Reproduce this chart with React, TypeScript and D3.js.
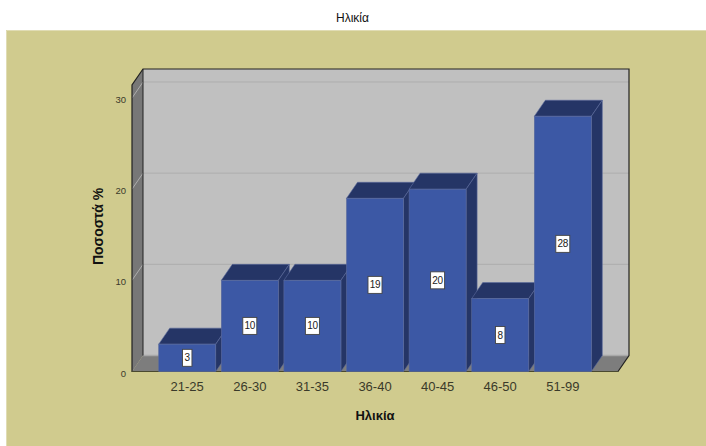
import React from "react";
import * as d3 from "d3";

const categories = ["21-25", "26-30", "31-35", "36-40", "40-45", "46-50", "51-99"];
const percents = [3, 10, 10, 19, 20, 8, 28];
const yTicks = [0, 10, 20, 30];
const chartTitle = "Ηλικία";
const xTitle = "Ηλικία";
const yTitle = "Ποσοστά %";

const W = 706, H = 446;
const DX = 11, DY = -16;
const FL = 132, FR = 618, FB = 371.5, TOP = 69;
const FONT = "'Liberation Sans', Arial, sans-serif";
const TEXT = "#3a3a2a";

export default function App() {
  const y = d3.scaleLinear().domain([0, 30]).range([FB, 98]);
  const x = d3.scaleBand<string>().domain(categories).range([158.7, 591.3]).paddingInner(0.0895).paddingOuter(0);
  const line = d3.line();
  const poly = (pts: [number, number][]) => line(pts) + "Z";
  const BL = FL + DX, BR = FR + DX, BB = FB + DY;

  return (
    <svg width={W} height={H} viewBox={`0 0 ${W} ${H}`}
      style={{ position: "fixed", left: 0, top: 0, display: "block" }} fontFamily={FONT}>
      <rect width={W} height={H} fill="#ffffff" />
      <rect x={6} y={30} width={W - 6} height={H - 30} fill="#d0cb8e" />
      <path d={`M6.5,${H} V30.5 H${W}`} fill="none" stroke="#e0dcb4" strokeWidth={1} />
      <text x={352.5} y={22} textAnchor="middle" fontSize={12} fill="#111">{chartTitle}</text>

      {/* back wall, left wall, floor */}
      <rect x={BL} y={TOP} width={BR - BL} height={BB - TOP} fill="#c0c0c0" />
      <path d={poly([[FL, TOP - DY], [BL, TOP], [BL, BB], [FL, FB]])} fill="#777777" />
      <path d={poly([[FL, FB], [BL, BB], [BR, BB], [FR, FB]])} fill="#7d7d7d" />
      <path d={`M${BL},${BB} H${BR}`} stroke="#a8a8a8" strokeWidth={1.5} fill="none" />

      {/* gridlines */}
      {yTicks.filter(t => t > 0).map(t => (
        <path key={t} d={`M${FL},${y(t)} L${BL},${y(t) + DY} H${BR}`} fill="none" stroke="#adadad" strokeWidth={1} />
      ))}

      {/* frame */}
      <path d={`M${FL},${FB} V${TOP - DY} L${BL},${TOP} H${BR} V${BB} L${FR},${FB} Z`} fill="none" stroke="#222" strokeWidth={1.2} />
      <path d={`M${BL},${TOP} V${BB}`} fill="none" stroke="#222" strokeWidth={1} />
      <path d={`M${FL},${FB} H${FR}`} fill="none" stroke="#4a4a30" strokeWidth={1} />

      {/* bars */}
      {categories.map((c, i) => {
        const x0 = x(c)!, x1 = x0 + x.bandwidth(), t = y(percents[i]);
        return (
          <g key={c} stroke="#5a6a9c" strokeWidth={0.6}>
            <path d={poly([[x0, t], [x0 + DX, t + DY], [x1 + DX, t + DY], [x1, t]])} fill="#253566" />
            <path d={poly([[x1, t], [x1 + DX, t + DY], [x1 + DX, FB + DY], [x1, FB]])} fill="#253566" />
            <rect x={x0} y={t} width={x.bandwidth()} height={FB - t} fill="#3c58a5" />
          </g>
        );
      })}

      {/* value labels */}
      {categories.map((c, i) => {
        const cx = x(c)! + x.bandwidth() / 2, cy = (y(percents[i]) + FB) / 2;
        const w = String(percents[i]).length > 1 ? 14 : 9.5;
        return (
          <g key={c}>
            <rect x={cx - w / 2} y={cy - 8.5} width={w} height={17} fill="#fff" stroke="#444" strokeWidth={0.9} />
            <text x={cx} y={cy + 3.5} textAnchor="middle" fontSize={10} letterSpacing={-0.3} fill="#222">{percents[i]}</text>
          </g>
        );
      })}

      {/* axis labels */}
      {yTicks.map(t => (
        <text key={t} x={126} y={y(t) + 5} textAnchor="end" fontSize={9.5} fill={TEXT}>{t}</text>
      ))}
      {categories.map(c => (
        <text key={c} x={x(c)! + x.bandwidth() / 2} y={391} textAnchor="middle" fontSize={13} fill={TEXT}>{c}</text>
      ))}
      <text x={375} y={420} textAnchor="middle" fontSize={13} fontWeight="bold" fill="#111">{xTitle}</text>
      <text transform="translate(103,226.5) rotate(-90)" textAnchor="middle" fontSize={14} fontWeight="bold" fill="#111">{yTitle}</text>
    </svg>
  );
}
